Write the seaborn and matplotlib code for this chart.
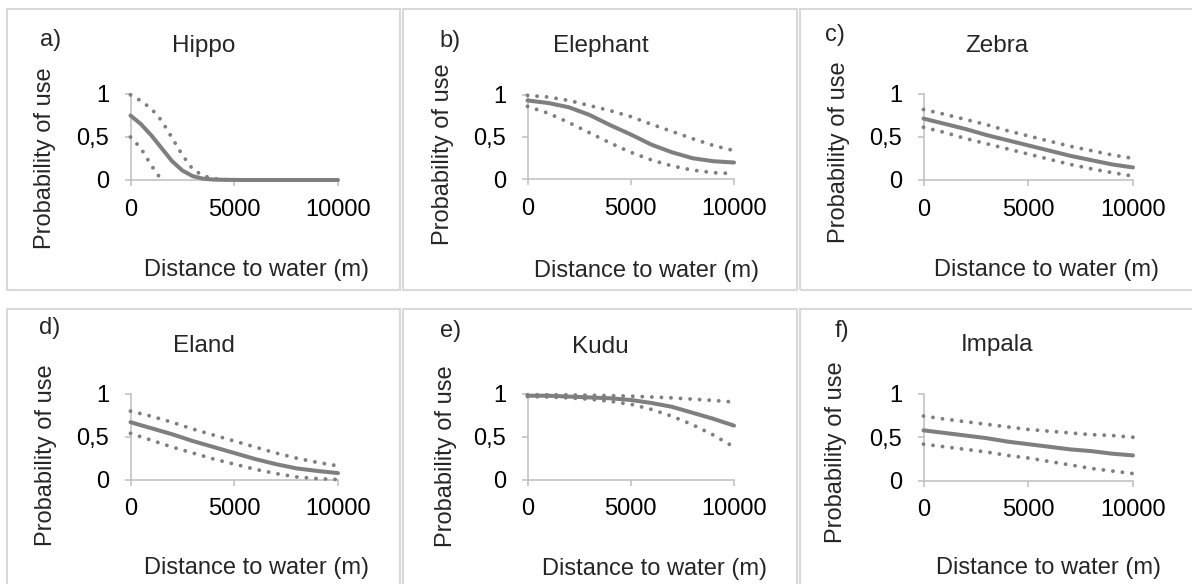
import matplotlib
matplotlib.use("Agg")
import matplotlib.pyplot as plt
from matplotlib.patches import Rectangle
import seaborn as sns

# ---- data: probability of use vs distance to water (m) ----
distance_fine = [0, 500, 1000, 1500, 2000, 2500, 3000, 3500, 4000, 4500, 5000,
                 5500, 6000, 6500, 7000, 7500, 8000, 8500, 9000, 9500, 10000]
distance = [0, 1000, 2000, 3000, 4000, 5000, 6000, 7000, 8000, 9000, 10000]

species = ["Hippo", "Elephant", "Zebra", "Eland", "Kudu", "Impala"]
panel_tags = ["a)", "b)", "c)", "d)", "e)", "f)"]
x_ticks = [0, 5000, 10000]
x_tick_labels = ["0", "5000", "10000"]
y_ticks = [0, 0.5, 1]
y_tick_labels = ["0", "0,5", "1"]

hippo_mean = [0.75, 0.65, 0.52, 0.37, 0.22, 0.11, 0.045, 0.015, 0.005, 0.002, 0.001,
              0, 0, 0, 0, 0, 0, 0, 0, 0, 0]
hippo_upper = [0.99, 0.92, 0.83, 0.69, 0.49, 0.29, 0.125, 0.05, 0.015, 0.005, 0.002,
               0, 0, 0, 0, 0, 0, 0, 0, 0, 0]
hippo_lower = [0.50, 0.37, 0.17, 0.0]          # below zero beyond 1500 m

elephant_mean = [0.93, 0.90, 0.85, 0.76, 0.64, 0.53, 0.41, 0.32, 0.25, 0.215, 0.20]
elephant_upper = [0.99, 0.97, 0.93, 0.87, 0.81, 0.74, 0.65, 0.565, 0.48, 0.40, 0.34]
elephant_lower = [0.86, 0.78, 0.67, 0.55, 0.43, 0.32, 0.23, 0.16, 0.11, 0.08, 0.07]

zebra_mean = [0.71, 0.65, 0.59, 0.52, 0.46, 0.40, 0.34, 0.28, 0.23, 0.18, 0.145]
zebra_upper = [0.815, 0.76, 0.70, 0.64, 0.57, 0.51, 0.45, 0.39, 0.34, 0.29, 0.25]
zebra_lower = [0.61, 0.55, 0.48, 0.42, 0.36, 0.30, 0.24, 0.18, 0.13, 0.085, 0.045]

eland_mean = [0.67, 0.60, 0.53, 0.45, 0.38, 0.31, 0.24, 0.18, 0.13, 0.10, 0.075]
eland_upper = [0.80, 0.74, 0.67, 0.59, 0.52, 0.45, 0.38, 0.31, 0.25, 0.20, 0.16]
eland_lower = [0.54, 0.46, 0.38, 0.31, 0.24, 0.18, 0.12, 0.07, 0.03, 0.01, 0.0]

kudu_mean = [0.98, 0.98, 0.97, 0.96, 0.95, 0.93, 0.895, 0.85, 0.78, 0.71, 0.63]
kudu_upper = [0.99, 0.99, 0.99, 0.985, 0.98, 0.975, 0.965, 0.955, 0.94, 0.925, 0.905]
kudu_lower = [0.97, 0.965, 0.955, 0.94, 0.915, 0.88, 0.82, 0.74, 0.64, 0.52, 0.38]

impala_mean = [0.58, 0.55, 0.52, 0.49, 0.45, 0.42, 0.39, 0.36, 0.34, 0.31, 0.29]
impala_upper = [0.745, 0.71, 0.68, 0.65, 0.62, 0.59, 0.57, 0.55, 0.53, 0.52, 0.50]
impala_lower = [0.42, 0.39, 0.36, 0.33, 0.29, 0.26, 0.22, 0.18, 0.14, 0.11, 0.08]

curves = [
    (distance_fine, hippo_mean, hippo_upper, distance_fine[:len(hippo_lower)], hippo_lower),
    (distance, elephant_mean, elephant_upper, distance, elephant_lower),
    (distance, zebra_mean, zebra_upper, distance, zebra_lower),
    (distance, eland_mean, eland_upper, distance, eland_lower),
    (distance, kudu_mean, kudu_upper, distance, kudu_lower),
    (distance, impala_mean, impala_upper, distance, impala_lower),
]

# ---- styling ----
sns.set_theme(style="white")
plt.rcParams["font.family"] = ["Liberation Sans", "DejaVu Sans"]

W, H = 1192, 584
FS = 17
LINE_GREY = "#7f7f7f"
AXIS_GREY = "#bfbfbf"
BOX_GREY = "#d9d9d9"

fig = plt.figure(figsize=(W / 100, H / 100), dpi=100)
fig.patch.set_facecolor("white")


def fx(px):
    return px / W


def fy(py):
    return 1 - py / H


# panel frames (pixel boxes: x0, y0, x1, y1)
frames = [(7, 9, 400, 290), (403, 9, 797, 290), (800, 9, 1196, 290),
          (7, 309, 400, 596), (403, 309, 797, 596), (800, 309, 1196, 596)]
# plot areas (left, top, right, bottom) in pixels
plot_boxes = [(130.5, 94, 338, 180), (527.5, 94.5, 734, 179.5), (923.5, 93.5, 1133, 180),
              (130.5, 394, 338, 479.5), (527.5, 394, 734, 479.5), (923.5, 394, 1133, 480.5)]
tag_pos = [(51, 40), (450, 41), (835, 35), (50, 328), (451, 331), (842, 331)]
title_pos = [(204, 46), (601, 46), (997, 46), (204, 346), (600, 347), (997, 345)]
ylabel_pos = [(45, 158), (443, 154), (839, 152), (46, 455), (446, 456), (836, 452)]
xlabel_pos = [(257, 270), (646, 271), (1046, 270), (257, 568), (655, 569), (1048, 568)]

for (x0, y0, x1, y1) in frames:
    fig.add_artist(Rectangle((fx(x0), fy(y1)), (x1 - x0) / W, (y1 - y0) / H,
                             transform=fig.transFigure, fill=False,
                             edgecolor=BOX_GREY, linewidth=1.5))

for i, name in enumerate(species):
    l, t, r, b = plot_boxes[i]
    ax = fig.add_axes([fx(l), fy(b), (r - l) / W, (b - t) / H])
    ax.patch.set_alpha(0)

    xm, ym, yu, xl, yl = curves[i]
    dotted = dict(color=LINE_GREY, linewidth=2.8, linestyle=(0, (0.01, 2.45)),
                  dash_capstyle="round", clip_on=False, zorder=3)
    sns.lineplot(x=xm, y=yu, ax=ax, legend=False, **dotted)
    sns.lineplot(x=xl, y=yl, ax=ax, legend=False, **dotted)
    sns.lineplot(x=xm, y=ym, ax=ax, color=LINE_GREY, linewidth=2.9,
                 clip_on=False, zorder=4, legend=False)

    ax.set_xlim(0, 10000)
    ax.set_ylim(0, 1)
    ax.set_xticks(x_ticks)
    ax.set_xticklabels(x_tick_labels)
    ax.set_yticks(y_ticks)
    ax.set_yticklabels(y_tick_labels)
    ax.set_xlabel("")
    ax.set_ylabel("")
    sns.despine(ax=ax)
    for side in ("left", "bottom"):
        ax.spines[side].set_color(AXIS_GREY)
        ax.spines[side].set_linewidth(1.1)
    ax.tick_params(axis="both", which="major", bottom=True, left=True,
                   direction="out", length=4.5, width=1.1, color=AXIS_GREY,
                   labelsize=FS, labelcolor="black")
    ax.tick_params(axis="x", pad=9)
    ax.tick_params(axis="y", pad=11)

    tx, ty = tag_pos[i]
    fig.text(fx(tx), fy(ty), panel_tags[i], ha="center", va="center", fontsize=FS)
    sx, sy = title_pos[i]
    fig.text(fx(sx), fy(sy), name, ha="center", va="center", fontsize=FS + 0.5)
    lx, ly = ylabel_pos[i]
    fig.text(fx(lx), fy(ly), "Probability of use", ha="center", va="center",
             rotation=90, fontsize=FS)
    dx, dy = xlabel_pos[i]
    fig.text(fx(dx), fy(dy), "Distance to water (m)", ha="center", va="center",
             fontsize=FS)

fig.savefig("out.png", dpi=100, facecolor="white")
